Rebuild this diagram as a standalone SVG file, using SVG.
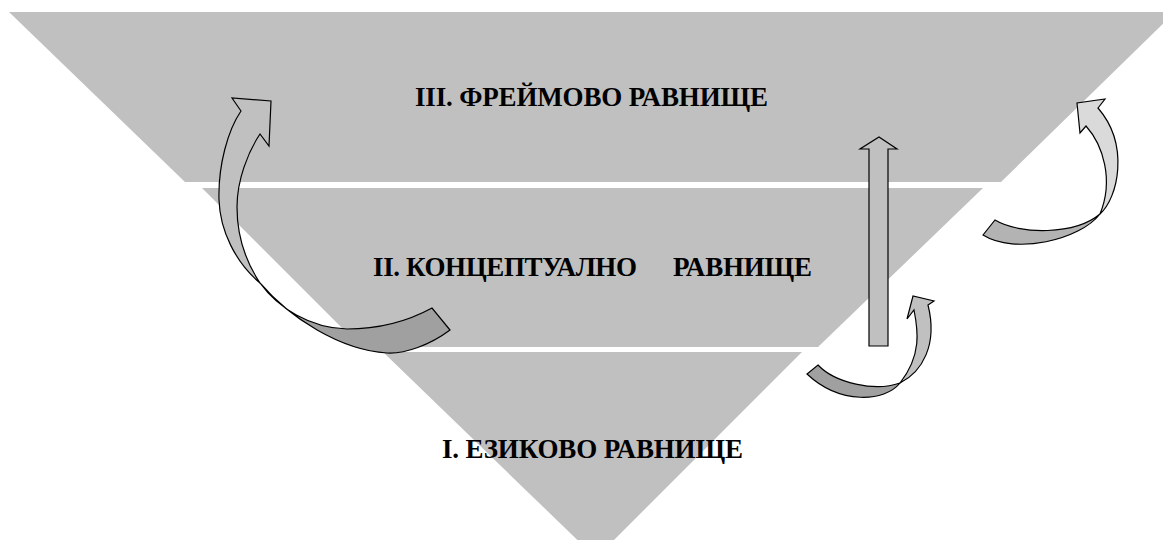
<svg xmlns="http://www.w3.org/2000/svg" width="1163" height="540" viewBox="0 0 1163 540">
<style>
.band{fill:#C0C0C0;stroke:none}
.lbl{font-family:"Liberation Serif","Times New Roman",serif;font-weight:bold;font-size:27px;fill:#000}
.arr{stroke:#000;stroke-width:1.2;stroke-linejoin:miter}
.lt{fill:#C0C0C0}
.dk{fill:#A0A0A0}
.lt2{fill:#DADADA}
.dk2{fill:#B3B3B3}
</style>
<rect width="1163" height="540" fill="#fff"/>
<g id="level3">
<polygon class="band" points="9,12 1175,12 1001,182 185,182"/>
<text class="lbl" x="415" y="106" textLength="353">III. ФРЕЙМОВО РАВНИЩЕ</text>
</g>
<g id="level2">
<polygon class="band" points="202,188 983,188 818,347 361,347"/>
<text class="lbl" y="276"><tspan x="373" textLength="264">II. КОНЦЕПТУАЛНО</tspan><tspan x="673" textLength="139">РАВНИЩЕ</tspan></text>
</g>
<g id="level1">
<polygon class="band" points="383,352 802,352 596,558"/>
<text class="lbl" x="442" y="458" textLength="301">I. ЕЗИКОВО РАВНИЩЕ</text>
</g>
<g id="connectors">
<g id="arrow-left">
<path class="arr dk" d="M260,283 C290,318 340,350 387,353 C405,354 430,345 450,330 L432,308 C410,320 380,329 347,329 C310,328 278,308 260,283 Z"/>
<path class="arr lt" d="M241,111 L232,98 L271,101 L269,146 L260,134 C248,152 237,180 237,207 C237,235 246,262 260,283 C235,262 220,230 219,200 C218,165 228,130 241,111 Z"/>
</g>
<g id="arrow-up">
<polygon class="arr lt" points="869,346 888,346 888,149 897,149 879,137 860,149 869,149"/>
</g>
<g id="arrow-small">
<path class="arr dk" d="M900,383 C885,402 840,405 807,374 L818,365 C835,383 875,392 900,383 Z"/>
<path class="arr lt" d="M928,305 L934,301 L913,296 L907,319 L914,310 C918,330 922,355 900,383 C922,372 938,345 928,305 Z"/>
</g>
<g id="arrow-right">
<path class="arr dk2" d="M1100,214 C1080,240 1015,255 983,235 L995,220 C1020,235 1075,235 1100,214 Z"/>
<path class="arr lt2" d="M1098,108 L1105,99 L1077,103 L1080,133 L1086,126 C1103,145 1114,180 1100,214 C1118,198 1130,145 1098,108 Z"/>
</g>
</g>
</svg>
